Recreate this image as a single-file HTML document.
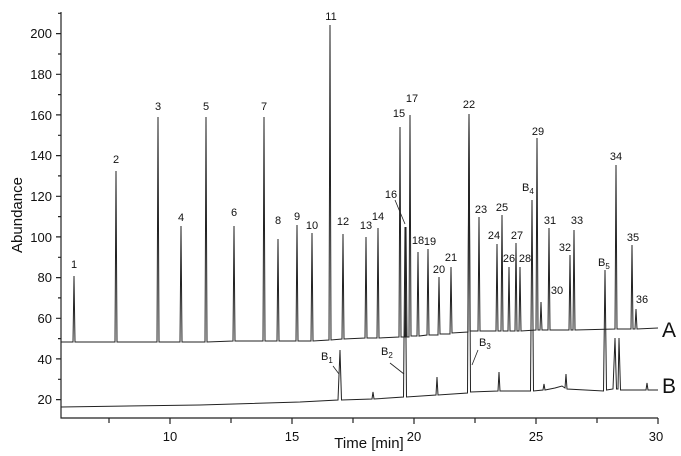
<!DOCTYPE html>
<html><head><meta charset="utf-8"><style>
html,body{margin:0;padding:0;background:#fff;}
svg{display:block;}
text{font-family:"Liberation Sans",Arial,sans-serif;fill:#111;}
</style></head><body>
<svg width="681" height="456" viewBox="0 0 681 456" xmlns="http://www.w3.org/2000/svg">
<g stroke="#222" stroke-width="1.2" fill="none">
<path d="M61 12 V418 H658"/>
<path d="M61 33.6h-5M61 74.3h-5M61 114.9h-5M61 155.6h-5M61 196.3h-5M61 236.9h-5M61 277.6h-5M61 318.3h-5M61 358.9h-5M61 399.6h-5"/>
<path d="M61 13.3h-3M61 54h-3M61 94.6h-3M61 135.3h-3M61 175.9h-3M61 216.6h-3M61 257.3h-3M61 297.9h-3M61 338.6h-3M61 379.3h-3"/>
<path d="M109 418v5M170 418v6M231 418v5M292 418v6M353 418v5M414 418v6M475 418v5M536 418v6M597 418v5M658 418v6"/>
</g>
<g font-size="13" text-anchor="end">
<text x="52" y="38">200</text><text x="52" y="79">180</text><text x="52" y="120">160</text>
<text x="52" y="160">140</text><text x="52" y="201">120</text><text x="52" y="242">100</text>
<text x="52" y="282">80</text><text x="52" y="323">60</text><text x="52" y="364">40</text><text x="52" y="404">20</text>
</g>
<g font-size="13" text-anchor="middle">
<text x="170" y="441">10</text><text x="292" y="441">15</text><text x="414" y="441">20</text>
<text x="536" y="441">25</text><text x="656" y="441">30</text>
</g>
<text x="369" y="448" font-size="15" text-anchor="middle">Time [min]</text>
<text transform="translate(22 215) rotate(-90)" font-size="15" text-anchor="middle">Abundance</text>

<path fill="none" stroke="#222" stroke-width="1" d="M61 407 L200 405 L300 402 L338 400 L340 350 L341.5 400 L372 399 L373 392 L374 399 L403.5 397 L405 227 L406.5 397 L436 395 L437 377 L438 395 L467.5 393 L469 114 L470.5 392 L498 391 L499 372 L500 391 L530.5 391 L532 200 L533.5 391 L543 390 L544 384 L545 390 L555 388 L562 386 L565 388 L566 374 L567 389 L603.5 391 L605 270 L606.5 390 L613 389 L615 338 L616.5 389 L618 389 L619 338 L620.5 390 L646 390 L647 383 L648 390 L658 390"/>
<path fill="none" stroke="#222" stroke-width="1" d="M61 342 L73 342 L74 276 L75 342 L115 342 L116 171 L117 342 L157 342 L158 117 L159 342 L180 342 L181 226 L182 342 L205 342 L206 117 L207 342 L233 341 L234 226 L235 341 L263 341 L264 117 L265 341 L277 341 L278 239 L279 341 L296 341 L297 225 L298 341 L311 341 L312 233 L313 341 L329 340 L330 25 L331 340 L342 339 L343 234 L344 339 L365 338 L366 237 L367 338 L377 338 L378 228 L379 338 L399 337 L400 127 L401 337 L405 337 L406 227 L407 337 L409 337 L410 115 L411 336 L417 336 L418 252 L419 336 L427 335 L428 249 L429 335 L438 335 L439 277 L440 334 L450 334 L451 267 L452 333 L468 332 L469 114 L470 331 L478 331 L479 217 L480 331 L496 331 L497 244 L498 331 L501 331 L502 215 L503 331 L508 331 L509 267 L510 331 L515 331 L516 243 L517 331 L519 331 L520 267 L521 331 L536 330 L537 138 L538 330 L540 330 L541 302 L542 330 L548 330 L549 228 L550 330 L569 330 L570 255 L571 330 L573 330 L574 230 L575 330 L615 329 L616 165 L617 329 L631 329 L632 245 L633 329 L635 329 L636 309 L637 329 L658 328"/>
<g fill="none" stroke="#222" stroke-width="0.8">
<path d="M395 200 L405 224"/>
<path d="M333 366 L339 374"/>
<path d="M390 363 L404 374"/>
<path d="M478 350 L472 365"/>
</g>
<g font-size="11" text-anchor="middle">
<text x="74" y="268">1</text><text x="116" y="163">2</text><text x="158" y="110">3</text>
<text x="181" y="221">4</text><text x="206" y="110">5</text><text x="234" y="216">6</text>
<text x="264" y="110">7</text><text x="278" y="224">8</text><text x="297" y="220">9</text>
<text x="312" y="229">10</text><text x="331" y="20">11</text><text x="343" y="225">12</text>
<text x="366" y="229">13</text><text x="378" y="220">14</text><text x="399" y="117">15</text>
<text x="391" y="198">16</text><text x="412" y="102">17</text><text x="418" y="244">18</text>
<text x="430" y="245">19</text><text x="439" y="273">20</text><text x="451" y="261">21</text>
<text x="469" y="108">22</text><text x="481" y="213">23</text><text x="494" y="239">24</text>
<text x="502" y="211">25</text><text x="509" y="262">26</text><text x="517" y="239">27</text>
<text x="525" y="262">28</text><text x="538" y="135">29</text><text x="557" y="294">30</text>
<text x="550" y="224">31</text><text x="565" y="251">32</text><text x="577" y="224">33</text>
<text x="616" y="160">34</text><text x="633" y="241">35</text><text x="642" y="303">36</text>
</g>
<g font-size="11">
<text x="522" y="191">B<tspan font-size="8" dy="3">4</tspan></text>
<text x="598" y="266">B<tspan font-size="8" dy="3">5</tspan></text>
<text x="321" y="360">B<tspan font-size="8" dy="3">1</tspan></text>
<text x="381" y="355">B<tspan font-size="8" dy="3">2</tspan></text>
<text x="479" y="346">B<tspan font-size="8" dy="3">3</tspan></text>
</g>
<text x="662" y="337" font-size="21">A</text>
<text x="662" y="393" font-size="21">B</text>
</svg>
</body></html>
